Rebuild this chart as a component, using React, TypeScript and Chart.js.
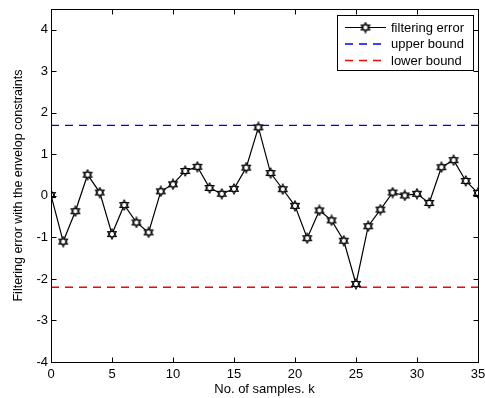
import React, { useEffect, useRef } from "react";
import { Chart, registerables } from "chart.js";

Chart.register(...registerables);

const sampleK = [0, 1, 2, 3, 4, 5, 6, 7, 8, 9, 10, 11, 12, 13, 14, 15, 16, 17, 18, 19, 20, 21, 22, 23, 24, 25, 26, 27, 28, 29, 30, 31, 32, 33, 34, 35];
const filteringError = [0.02, -1.1, -0.37, 0.51, 0.08, -0.92, -0.22, -0.64, -0.88, 0.11, 0.28, 0.6, 0.7, 0.19, 0.05, 0.17, 0.68, 1.65, 0.55, 0.16, -0.24, -1.02, -0.35, -0.59, -1.08, -2.12, -0.73, -0.33, 0.08, 0.01, 0.05, -0.17, 0.69, 0.86, 0.36, 0.07];
const upperBound = 1.7;
const lowerBound = -2.2;
const boundRange = [0, 35];
const seriesLabels = ["filtering error", "upper bound", "lower bound"];
const xTitle = "No. of samples. k";
const yTitle = "Filtering error with the envelop constraints";

const FONT = "'Liberation Sans', Arial, Helvetica, sans-serif";

function makeHexagram(): HTMLCanvasElement {
  const c = document.createElement("canvas");
  c.width = 12;
  c.height = 12;
  const ctx = c.getContext("2d")!;
  const cx = 6, cy = 6, R = 5;
  const tri = (start: number) => {
    ctx.beginPath();
    for (let i = 0; i < 3; i++) {
      const a = start + (i * 2 * Math.PI) / 3;
      const px = cx + R * Math.cos(a);
      const py = cy + R * Math.sin(a);
      if (i === 0) ctx.moveTo(px, py);
      else ctx.lineTo(px, py);
    }
    ctx.closePath();
  };
  ctx.fillStyle = "#ffffff";
  tri(-Math.PI / 2);
  ctx.fill();
  tri(Math.PI / 2);
  ctx.fill();
  ctx.strokeStyle = "#000000";
  ctx.lineWidth = 1.1;
  tri(-Math.PI / 2);
  ctx.stroke();
  tri(Math.PI / 2);
  ctx.stroke();
  return c;
}

export default function App() {
  const ref = useRef<HTMLCanvasElement | null>(null);
  useEffect(() => {
    if (!ref.current) return;
    const marker = makeHexagram();
    const frame = {
      id: "frame",
      afterDatasetsDraw(chart: any) {
        const { ctx, chartArea: a, scales } = chart;
        ctx.save();
        ctx.strokeStyle = "#000";
        ctx.lineWidth = 1;
        const L = Math.round(a.left) + 0.5, R = Math.round(a.right) + 0.5;
        const T = Math.round(a.top) + 0.5, B = Math.round(a.bottom) + 0.5;
        ctx.strokeRect(L, T, R - L, B - T);
        const tl = 5;
        ctx.beginPath();
        scales.x.ticks.forEach((t: any) => {
          const x = Math.round(scales.x.getPixelForValue(t.value)) + 0.5;
          ctx.moveTo(x, B); ctx.lineTo(x, B - tl);
          ctx.moveTo(x, T); ctx.lineTo(x, T + tl);
        });
        scales.y.ticks.forEach((t: any) => {
          const y = Math.round(scales.y.getPixelForValue(t.value)) + 0.5;
          ctx.moveTo(L, y); ctx.lineTo(L + tl, y);
          ctx.moveTo(R, y); ctx.lineTo(R - tl, y);
        });
        ctx.stroke();

        // legend
        const lx = 337.5, ly = 15.5, lw = 136, lh = 55;
        ctx.fillStyle = "#fff";
        ctx.fillRect(lx, ly, lw, lh);
        ctx.strokeRect(lx, ly, lw, lh);
        const rows = [27.5, 44, 60.5];
        const ds = chart.data.datasets;
        ctx.font = `13px ${FONT}`;
        ctx.textBaseline = "middle";
        ctx.textAlign = "left";
        rows.forEach((ry: number, i: number) => {
          const d = ds[i];
          ctx.save();
          ctx.strokeStyle = d.borderColor;
          ctx.lineWidth = d.borderWidth;
          ctx.setLineDash(d.borderDash || []);
          ctx.beginPath();
          ctx.moveTo(345, ry);
          ctx.lineTo(386, ry);
          ctx.stroke();
          ctx.restore();
          if (i === 0) ctx.drawImage(marker, 365.5 - 6, ry - 6);
          ctx.fillStyle = "#000";
          ctx.fillText(d.label, 391, ry + 0.5);
        });
        ctx.restore();
      },
    };
    const chart = new Chart(ref.current, {
      type: "line",
      data: {
        datasets: [
          {
            label: seriesLabels[0],
            data: sampleK.map((k, i) => ({ x: k, y: filteringError[i] })),
            borderColor: "#000000",
            borderWidth: 1.2,
            pointStyle: marker as any,
            pointRadius: 5,
            tension: 0,
            order: 0,
          },
          {
            label: seriesLabels[1],
            data: boundRange.map((k) => ({ x: k, y: upperBound })),
            borderColor: "#0000ff",
            borderWidth: 1.3,
            borderDash: [8, 6],
            pointRadius: 0,
            order: 1,
          },
          {
            label: seriesLabels[2],
            data: boundRange.map((k) => ({ x: k, y: lowerBound })),
            borderColor: "#ff0000",
            borderWidth: 1.3,
            borderDash: [8, 6],
            pointRadius: 0,
            order: 2,
          },
        ],
      },
      options: {
        responsive: false,
        animation: false,
        layout: { padding: { top: 9, right: 7, left: 0, bottom: 0 } },
        plugins: { legend: { display: false }, tooltip: { enabled: false } },
        scales: {
          x: {
            type: "linear",
            min: 0,
            max: 35,
            grid: { display: false, drawTicks: false },
            border: { display: false },
            ticks: { stepSize: 5, color: "#000", padding: 5, font: { family: FONT, size: 13 }, maxRotation: 0, includeBounds: false },
            title: { display: true, text: xTitle, color: "#000", font: { family: FONT, size: 13 }, padding: { top: 0, bottom: 1 } },
            afterFit: (s: any) => { s.height = 36; s.paddingLeft = 0; s.paddingRight = 0; },
          },
          y: {
            type: "linear",
            min: -4,
            max: 4.5,
            grid: { display: false, drawTicks: false },
            border: { display: false },
            ticks: { stepSize: 1, color: "#000", padding: 3, font: { family: FONT, size: 13 }, includeBounds: false },
            title: { display: true, text: yTitle, color: "#000", font: { family: FONT, size: 12.5 }, padding: { top: 11, bottom: 0 } },
            afterFit: (s: any) => { s.width = 51; s.paddingTop = 0; s.paddingBottom = 0; },
          },
        },
      },
      plugins: [frame],
    });
    return () => chart.destroy();
  }, []);
  return (
    <div style={{ position: "fixed", left: 0, top: 0, width: 485, height: 398, background: "#fff" }}>
      <canvas ref={ref} width={485} height={398} style={{ display: "block" }} />
    </div>
  );
}
